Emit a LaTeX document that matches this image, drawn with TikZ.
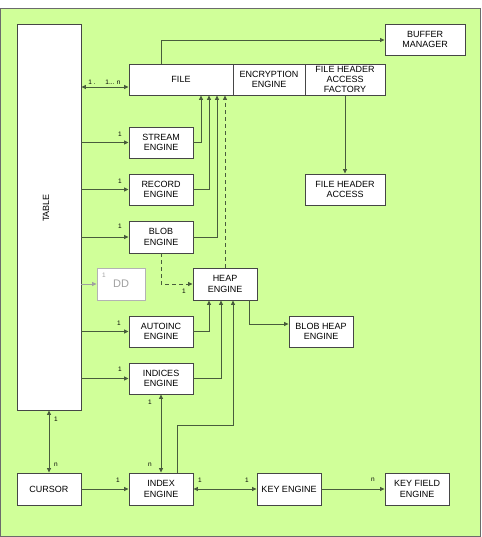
\documentclass[tikz,border=0pt]{standalone}
\usepackage{fontspec}
\setmainfont{Liberation Sans}
\usetikzlibrary{arrows.meta}
\definecolor{bggreen}{RGB}{208,255,153}
\definecolor{linecol}{RGB}{72,92,60}
\definecolor{boxline}{RGB}{70,70,70}
\definecolor{ddgray}{RGB}{160,160,160}
\tikzset{
  box/.style={draw=boxline, line width=0.9pt, fill=white, align=center, inner sep=1pt,
    font=\fontsize{9}{10.3}\selectfont},
  ddbox/.style={draw=ddgray!80, line width=0.9pt, fill=white, text=ddgray,
    font=\fontsize{11}{12}\selectfont},
  conn/.style={draw=linecol, line width=0.8pt, -{Triangle[length=4.5pt,width=4pt]}},
  bconn/.style={draw=linecol, line width=0.8pt, {Triangle[length=4.5pt,width=4pt]}-{Triangle[length=4.5pt,width=4pt]}},
  dconn/.style={conn, dash pattern=on 4pt off 3pt},
  gconn/.style={draw=ddgray, line width=0.8pt, -{Triangle[length=4.5pt,width=4pt]}},
  lbl/.style={font=\fontsize{6.5}{7}\selectfont, inner sep=0pt},
}
\begin{document}
\begin{tikzpicture}[x=1pt,y=-1pt]
\useasboundingbox (0,0) rectangle (481,537);
\fill[white] (0,0) rectangle (481,537);
\draw[fill=bggreen, draw=boxline!80, line width=0.8pt] (0.5,8.5) rectangle (480.5,536.5);

% nodes
\node[box, minimum width=64, minimum height=386] (table) at (49,217) {};
\node[font=\fontsize{9}{10}\selectfont, rotate=90] (tabletxt) at (46,208) {TABLE};
\node[box, minimum width=104, minimum height=31] (file) at (181,79.5) {FILE};
\node[box, minimum width=72, minimum height=31] (enc) at (269,79.5) {ENCRYPTION\\ENGINE};
\node[box, minimum width=80, minimum height=31] (fhaf) at (345,79.5) {FILE HEADER\\ACCESS\\FACTORY};
\node[box, minimum width=80, minimum height=31] (buf) at (425,39.5) {BUFFER\\MANAGER};
\node[box, minimum width=64, minimum height=31] (stream) at (161,142.5) {STREAM\\ENGINE};
\node[box, minimum width=64, minimum height=31] (record) at (161,189.5) {RECORD\\ENGINE};
\node[box, minimum width=80, minimum height=31] (fha) at (345,189.5) {FILE HEADER\\ACCESS};
\node[box, minimum width=64, minimum height=32] (blob) at (161,237) {BLOB\\ENGINE};
\node[ddbox, minimum width=48, minimum height=32] (dd) at (121,284) {DD};
\node[box, minimum width=64, minimum height=32] (heap) at (225,284) {HEAP\\ENGINE};
\node[box, minimum width=64, minimum height=31] (autoinc) at (161,331.5) {AUTOINC\\ENGINE};
\node[box, minimum width=64, minimum height=31] (bheap) at (321,331.5) {BLOB HEAP\\ENGINE};
\node[box, minimum width=64, minimum height=31] (indices) at (161,378.5) {INDICES\\ENGINE};
\node[box, minimum width=64, minimum height=32] (cursor) at (49,489) {CURSOR};
\node[box, minimum width=64, minimum height=32] (index) at (161,489) {INDEX\\ENGINE};
\node[box, minimum width=64, minimum height=32] (key) at (289,489) {KEY ENGINE};
\node[box, minimum width=64, minimum height=32] (kfe) at (417,489) {KEY FIELD\\ENGINE};

% connectors
\draw[conn] ([xshift=-20pt]file.north) |- ([yshift=-0.5pt]buf.west);
\draw[bconn] ([yshift=-7.5pt]table.east |- file.west) -- ([yshift=-7.5pt]file.west);
\draw[conn] (fhaf.south) -- (fha.north);
\draw[conn] (table.east |- stream) -- (stream.west);
\draw[conn] (stream.east) -| ([xshift=20pt]file.south);
\draw[conn] (table.east |- record) -- (record.west);
\draw[conn] (record.east) -| ([xshift=28pt]file.south);
\draw[conn] (table.east |- blob) -- (blob.west);
\draw[conn] (blob.east) -| ([xshift=36pt]file.south);
\draw[dconn] (heap.north) -- (heap.north |- file.south);
\draw[dconn] (blob.south) |- (heap.west);
\draw[gconn] (table.east |- dd) -- (dd.west);
\draw[conn] (table.east |- autoinc) -- (autoinc.west);
\draw[conn] (autoinc.east) -| ([xshift=-16pt]heap.south);
\draw[conn] (table.east |- indices) -- (indices.west);
\draw[conn] (indices.east) -| ([xshift=-4pt]heap.south);
\draw[conn] ([xshift=16pt]index.north) -- ++(0,-47) -| ([xshift=8pt]heap.south);
\draw[conn] ([xshift=24pt]heap.south) |- ([yshift=7.5pt]bheap.west);
\draw[bconn] (indices.south) -- (index.north);
\draw[bconn] (table.south) -- (cursor.north);
\draw[conn] (cursor.east) -- (index.west);
\draw[bconn] (index.east) -- (key.west);
\draw[conn] (key.east) -- (kfe.west);

% labels
\node[lbl] (l1) at (92,82) {1 .};
\node[lbl] (l2) at (113,82) {1... n};
\node[lbl] (l3) at (120,134) {1};
\node[lbl] (l4) at (120,181) {1};
\node[lbl] (l5) at (120,226) {1};
\node[lbl, text=ddgray] (l6) at (104,275) {1};
\node[lbl] (l7) at (184,291) {1};
\node[lbl] (l8) at (119,323) {1};
\node[lbl] (l9) at (120,369) {1};
\node[lbl] (l10) at (150,402) {1};
\node[lbl] (l11) at (150,465) {n};
\node[lbl] (l12) at (56,419) {1};
\node[lbl] (l13) at (56,465) {n};
\node[lbl] (l14) at (118,480) {1};
\node[lbl] (l15) at (200,480) {1};
\node[lbl] (l16) at (247,480) {1};
\node[lbl] (l17) at (373,480) {n};
\end{tikzpicture}
\end{document}
